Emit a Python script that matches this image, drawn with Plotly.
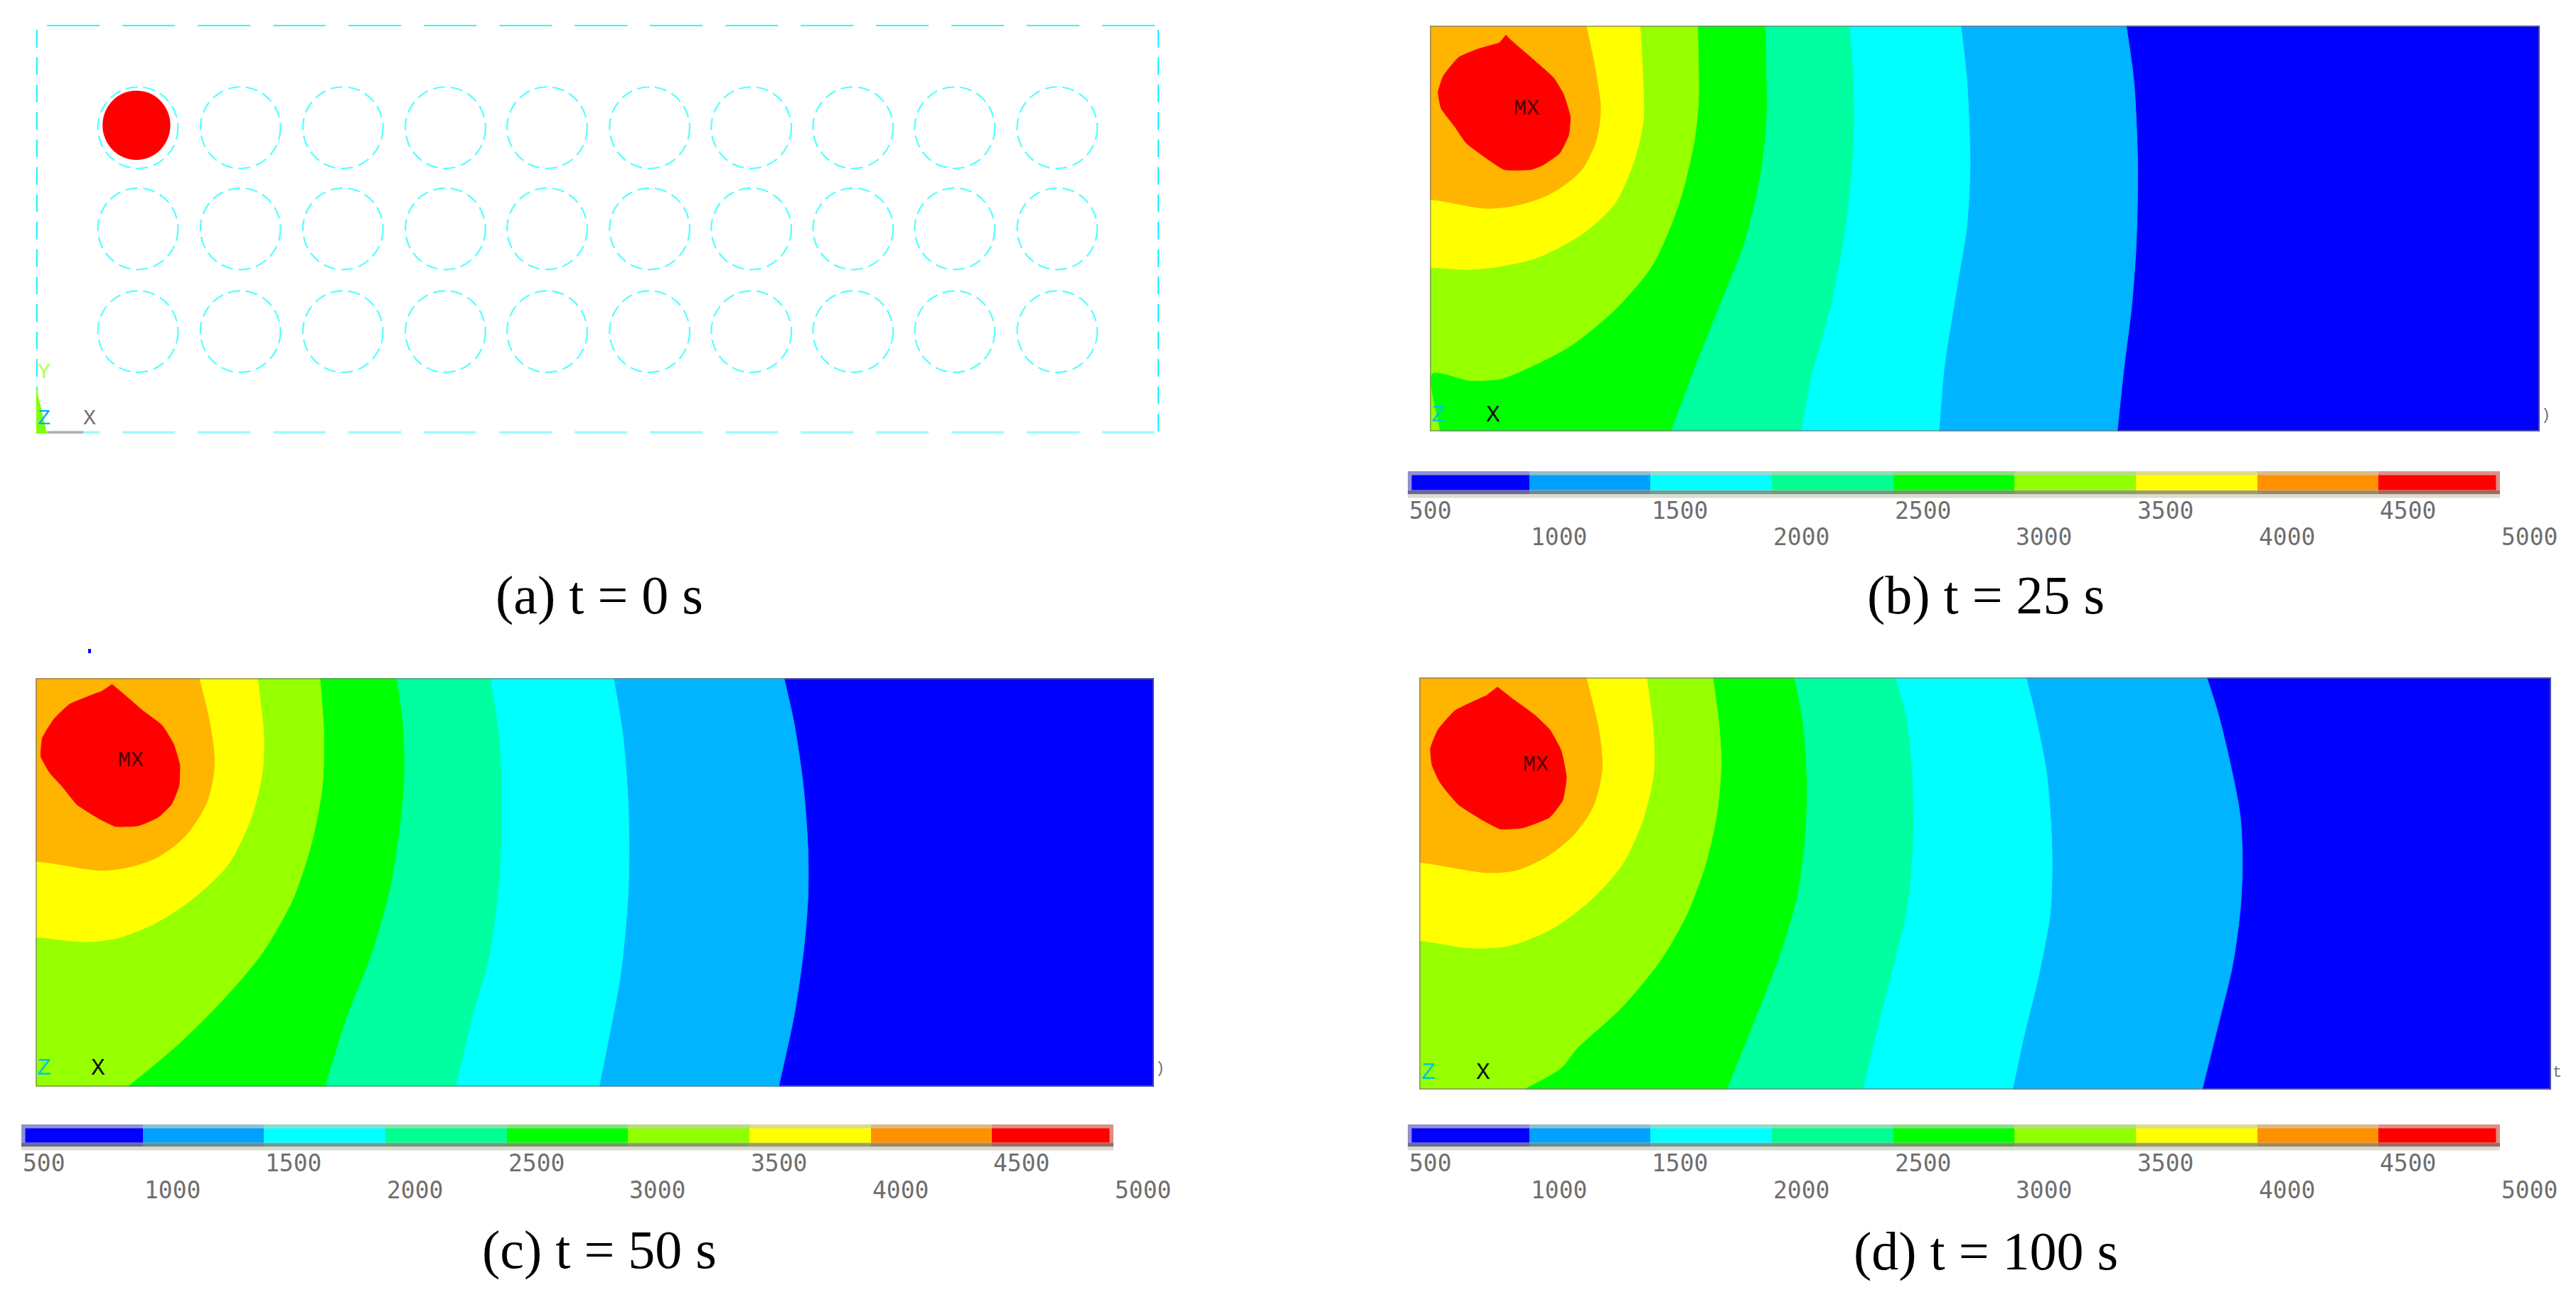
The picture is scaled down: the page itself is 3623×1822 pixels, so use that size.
import plotly.graph_objects as go

W, H = 3623, 1822

# ---------- colours ----------
plate_colors = ["#00B4FF", "#00FFFF", "#00FFA0", "#00FF00", "#96FF00", "#FFFF00", "#FFB400", "#FF0000"]
plate_base = "#0000FF"
bar_colors = ["#0000FF", "#00A0FF", "#00FFFF", "#00FF90", "#00FF00", "#90FF00", "#FFFF00", "#FF9000", "#FF0000"]

# ---------- colour scale ----------
levels = [500, 1000, 1500, 2000, 2500, 3000, 3500, 4000, 4500, 5000]
level_labels = ["500", "1000", "1500", "2000", "2500", "3000", "3500", "4000", "4500", "5000"]
label_rows_b = [-0.72, -1.88]
label_rows_cd = [-0.77, -1.97]

# ---------- panel extents in plate units ----------
b_xr, b_yr = [57, 1520], [1057, 62]
c_xr, c_yr = [46, 1497], [1070, 92]
d_xr, d_yr = [43, 1535], [1077, 90]
a_xr, a_yr = [47, 1504], [1062, 60]

# ---------- panel (a): heater grid ----------
hole_x = [179, 312, 445, 578, 710, 843, 975, 1107, 1239, 1372]
hole_y = [312, 560, 812]
hole_rx, hole_ry = 52, 100
hot_x, hot_y, hot_rx, hot_ry = 177, 306, 44, 85

# ---------- panel (b): t = 25 s isotherms ----------
b_lb = [(975,62),(985,200),(990,400),(988,600),(982,750),(972,900),(963,1057)]
b_cy = [(757,62),(765,200),(769,400),(765,550),(752,700),(735,900),(728,1057)]
b_sp = [(610,62),(615,200),(615,350),(605,550),(585,750),(560,920),(546,1057)]
b_gr = [(499,62),(500,300),(490,450),(470,600),(438,750),(408,890),(374,1057)]
b_li = [(410,62),(411,250),(405,350),(385,500),(350,650),(300,760),(240,850),(170,915),(150,928),(110,932),(60,915),(70,1057)]
b_ye = [(334,62),(338,200),(338,300),(325,400),(300,500),(260,570),(200,630),(150,652),(110,660),(57,655)]
b_or = [(263,62),(275,170),(282,270),(275,350),(255,420),(215,475),(170,503),(130,510),(57,488)]
b_re = [(157,85),(165,100),(190,140),(220,190),(233,230),(242,285),(240,330),(228,375),(205,405),(190,415),(155,415),(130,385),(105,350),(90,310),(72,265),(68,225),(75,185),(95,140),(120,120),(148,105)]

# ---------- panel (c): t = 50 s isotherms ----------
c_lb = [(1017,92),(1030,200),(1042,350),(1048,500),(1048,620),(1042,750),(1030,900),(1010,1070)]
c_cy = [(796,92),(808,230),(815,400),(815,600),(805,800),(790,950),(777,1070)]
c_sp = [(636,92),(648,250),(650,400),(648,560),(635,750),(610,920),(591,1070)]
c_gr = [(514,92),(522,200),(524,320),(518,450),(505,600),(480,760),(450,900),(421,1070)]
c_li = [(415,92),(420,230),(418,350),(405,480),(380,620),(340,750),(290,860),(230,970),(165,1070)]
c_ye = [(334,92),(342,230),(340,320),(325,430),(295,540),(250,620),(200,680),(150,715),(110,723),(46,712)]
c_or = [(258,92),(272,200),(278,300),(268,390),(240,470),(205,520),(165,545),(130,552),(46,530)]
c_re = [(145,107),(160,130),(185,170),(210,205),(225,250),(233,300),(232,350),(222,395),(205,425),(180,445),(150,447),(130,430),(100,395),(80,350),(65,320),(53,280),(55,235),(70,190),(90,155),(130,125)]

# ---------- panel (d): t = 100 s isotherms ----------
d_lb = [(1081,90),(1095,170),(1110,280),(1125,420),(1128,540),(1125,650),(1115,780),(1095,930),(1075,1077)]
d_cy = [(843,90),(855,180),(870,320),(877,500),(875,650),(860,800),(840,950),(825,1077)]
d_sp = [(670,90),(685,190),(693,350),(693,500),(685,650),(665,800),(640,980),(628,1077)]
d_gr = [(537,90),(548,200),(553,320),(552,450),(540,620),(515,770),(485,910),(448,1077)]
d_li = [(430,90),(438,200),(441,300),(435,420),(420,540),(395,660),(360,770),(310,880),(250,980),(230,1025),(180,1077)]
d_ye = [(343,90),(352,230),(352,320),(338,430),(310,540),(265,630),(215,695),(160,733),(110,738),(43,720)]
d_or = [(263,90),(280,220),(284,310),(272,400),(245,470),(210,520),(170,552),(130,557),(43,533)]
d_re = [(146,113),(165,140),(195,180),(215,215),(230,265),(237,330),(232,385),(215,425),(180,450),(150,453),(125,430),(95,395),(78,360),(70,340),(60,300),(58,260),(68,215),(90,170),(130,135)]

captions = ["(a) t = 0 s", "(b) t = 25 s", "(c) t = 50 s", "(d) t = 100 s"]

# ---------- layout helpers ----------
fig = go.Figure()
layout = dict(width=W, height=H, autosize=False, margin=dict(l=0, r=0, t=0, b=0),
              paper_bgcolor="white", plot_bgcolor="rgba(0,0,0,0)", showlegend=False,
              barmode="overlay", bargap=0)
annots, shapes = [], []


def add_axes(n, px_x, px_y, xr, yr):
    s = "" if n == 1 else str(n)
    common = dict(visible=False, fixedrange=True, showgrid=False, zeroline=False)
    layout["xaxis" + s] = dict(domain=[px_x[0] / W, px_x[1] / W], range=xr, anchor="y" + s, **common)
    layout["yaxis" + s] = dict(domain=[1 - px_y[1] / H, 1 - px_y[0] / H], range=yr, anchor="x" + s, **common)
    return "x" + s, "y" + s


def text(xa, ya, x, y, t, size, color, family="Liberation Mono", anchor="center"):
    annots.append(dict(xref=xa, yref=ya, x=x, y=y, text=t, showarrow=False, xanchor=anchor, yanchor="middle",
                       font=dict(size=size, color=color, family=family)))


def past_frame(p, q, dy):
    """Continue the segment q -> p beyond p by dy in y, for clipping at the frame."""
    return p[0] + (p[0] - q[0]) * dy / (p[1] - q[1]) * (1 if p[1] != q[1] else 0), p[1] + dy


def contour_panel(n, px_x, px_y, xr, yr, curves, red, labels):
    xa, ya = add_axes(n, px_x, px_y, xr, yr)
    left, right, bottom, top = xr[0], xr[1], yr[0], yr[1]
    fig.add_trace(go.Scatter(x=[left, right, right, left], y=[top, top, bottom, bottom], fill="toself",
                             fillcolor=plate_base, mode="none", xaxis=xa, yaxis=ya))
    for col, curve in zip(plate_colors, curves):
        head = past_frame(curve[0], curve[1], -60)
        pts = [(left - 80, head[1]), head] + list(curve)
        if curve[-1][1] == bottom:
            tail = past_frame(curve[-1], curve[-2], 60)
            pts += [tail, (left - 80, tail[1])]
        else:
            pts += [(left - 80, curve[-1][1])]
        fig.add_trace(go.Scatter(x=[p[0] for p in pts], y=[p[1] for p in pts], mode="lines", fill="toself",
                                 fillcolor=col, line=dict(color=col, width=1, shape="spline", smoothing=0.8),
                                 xaxis=xa, yaxis=ya))
    fig.add_trace(go.Scatter(x=[c[0] for c in red], y=[c[1] for c in red], mode="lines", fill="toself",
                             fillcolor=plate_colors[-1],
                             line=dict(color=plate_colors[-1], width=1, shape="spline", smoothing=0.4),
                             xaxis=xa, yaxis=ya))
    fig.add_trace(go.Scatter(x=[left, right, right, left, left], y=[top, top, bottom, bottom, top], mode="lines",
                             line=dict(color="rgba(125,125,125,0.6)", width=4), cliponaxis=False,
                             xaxis=xa, yaxis=ya))
    zx, xx, ay, mx, my, edge = labels
    text(xa, ya, zx, ay, "Z", 33, "#00C8D8")
    text(xa, ya, xx, ay, "X", 33, "#101010")
    text(xa, ya, mx, my, "MX", 30, "#500000")
    text(xa, ya, right, ay, edge, 22, "#707070", anchor="left")


def color_bar(n, px_x, px_y, rows):
    # the axis runs on below the bar so its value labels stay inside the range
    unit = px_y[1] - px_y[0]
    xa, ya = add_axes(n, px_x, (px_y[0], px_y[0] + 3.6 * unit), [levels[0], levels[-1]], [-2.6, 1])
    fig.add_trace(go.Scatter(x=[levels[0], levels[-1], levels[-1], levels[0], levels[0]], y=[0, 0, 1, 1, 0],
                             mode="lines", line=dict(color="rgba(205,205,190,0.7)", width=11),
                             cliponaxis=False, xaxis=xa, yaxis=ya))
    fig.add_trace(go.Bar(x=[500] * 9, base=levels[:-1], y=[0.5] * 9, width=1, orientation="h",
                         marker=dict(color=bar_colors, line=dict(width=0)), xaxis=xa, yaxis=ya))
    fig.add_trace(go.Scatter(x=[levels[0], levels[-1]], y=[0.07, 0.07], mode="lines",
                             line=dict(color="rgba(0,0,0,0.28)", width=5), xaxis=xa, yaxis=ya))
    for i, (lv, lb) in enumerate(zip(levels, level_labels)):
        text(xa, ya, lv, rows[i % 2], lb, 33, "#6e6e6e", "DejaVu Sans Mono", "left")


# ---------- panel (a) ----------
xa, ya = add_axes(1, (51, 1630), (35, 610), a_xr, a_yr)
for row in hole_y:
    for cx in hole_x:
        shapes.append(dict(type="circle", xref=xa, yref=ya, x0=cx - hole_rx, x1=cx + hole_rx,
                           y0=row - hole_ry, y1=row + hole_ry,
                           line=dict(color="#55FFFF", width=2.2, dash="17px,8px")))
shapes.append(dict(type="circle", xref=xa, yref=ya, x0=hot_x - hot_rx, x1=hot_x + hot_rx,
                   y0=hot_y - hot_ry, y1=hot_y + hot_ry, fillcolor="#FF0000", line=dict(width=0)))
plate_top_x = [61, 1504]
plate_edge_y = [72, 1062]
fig.add_trace(go.Scatter(x=plate_top_x, y=[a_yr[1], a_yr[1]], mode="lines", cliponaxis=False,
                         line=dict(color="#00FFFF", width=3.5, dash="74px,32px"), xaxis=xa, yaxis=ya))
fig.add_trace(go.Scatter(x=plate_top_x, y=[a_yr[0], a_yr[0]], mode="lines", cliponaxis=False,
                         line=dict(color="#99FFFF", width=7, dash="74px,32px"), xaxis=xa, yaxis=ya))
for ex in a_xr:
    fig.add_trace(go.Scatter(x=[ex, ex], y=plate_edge_y, mode="lines", cliponaxis=False,
                             line=dict(color="#00F0FF", width=3.5, dash="25px,13.6px"), xaxis=xa, yaxis=ya))
triad_x = [47, 61, 47, 47]
triad_y = [950, 1062, 1062, 950]
fig.add_trace(go.Scatter(x=triad_x, y=triad_y, fill="toself", fillcolor="#80FF00", mode="none",
                         cliponaxis=False, xaxis=xa, yaxis=ya))
fig.add_trace(go.Scatter(x=[61, 108], y=[1062, 1062], mode="lines", cliponaxis=False,
                         line=dict(color="#B0B0B0", width=7), xaxis=xa, yaxis=ya))
text(xa, ya, 57, 912, "Y", 30, "#AEFF50")
text(xa, ya, 57, 1026, "Z", 30, "#00B0F0")
text(xa, ya, 116, 1026, "X", 30, "#707070")

# ---------- panels (b), (c), (d) ----------
contour_panel(2, (2011, 3572), (36, 607), b_xr, b_yr, [b_lb, b_cy, b_sp, b_gr, b_li, b_ye, b_or], b_re,
              (68, 140, 1017, 184, 265, ")"))
contour_panel(3, (50, 1623), (954, 1529), c_xr, c_yr, [c_lb, c_cy, c_sp, c_gr, c_li, c_ye, c_or], c_re,
              (57, 127, 1027, 170, 290, ")"))
contour_panel(4, (1996, 3588), (953, 1533), d_xr, d_yr, [d_lb, d_cy, d_sp, d_gr, d_li, d_ye, d_or], d_re,
              (55, 127, 1037, 197, 300, "t"))

color_bar(5, (1980, 3516), (663, 695), label_rows_b)
color_bar(6, (30, 1566), (1582, 1613), label_rows_cd)
color_bar(7, (1980, 3516), (1582, 1613), label_rows_cd)

# stray speck above panel (c)
shapes.append(dict(type="rect", xref="paper", yref="paper", x0=124 / W, x1=128 / W,
                   y0=1 - 919 / H, y1=1 - 913 / H, fillcolor="#0000FF", line=dict(width=0)))

# ---------- captions ----------
cap_x = [843, 2793, 843, 2793]
cap_y = [838, 837, 1758, 1760]
for cx, cy, t in zip(cap_x, cap_y, captions):
    annots.append(dict(xref="paper", yref="paper", x=cx / W, y=1 - cy / H, text=t, showarrow=False,
                       xanchor="center", yanchor="middle",
                       font=dict(size=76, color="black", family="Liberation Serif")))

layout["annotations"] = annots
layout["shapes"] = shapes
fig.update_layout(**layout)
fig.write_html("out.html", config={"displayModeBar": False},
               post_script="document.body.style.margin='0';document.body.style.overflow='hidden';")
